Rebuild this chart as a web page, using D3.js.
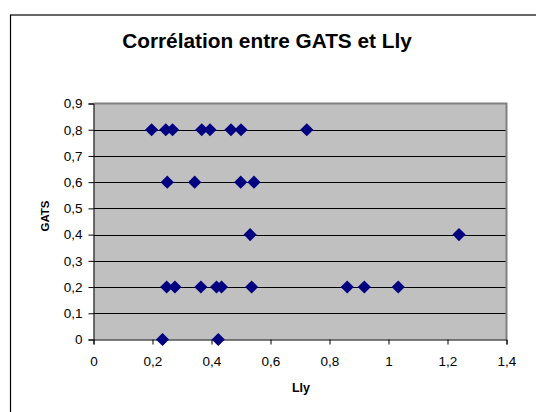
<!DOCTYPE html>
<html><head><meta charset="utf-8">
<script src="https://cdn.jsdelivr.net/npm/d3@7"></script>
<style>body{margin:0;background:#fff}svg{display:block}text{font-family:"Liberation Sans",Arial,sans-serif}</style>
</head><body><svg id="c" width="536" height="412"></svg>
<script>
const lly  = [0.197,0.245,0.268,0.367,0.395,0.466,0.500,0.723,
              0.250,0.343,0.499,0.544,
              0.531,1.239,
              0.248,0.276,0.364,0.417,0.434,0.536,0.860,0.918,1.033,
              0.234,0.423];
const gats = [0.8,0.8,0.8,0.8,0.8,0.8,0.8,0.8,
              0.6,0.6,0.6,0.6,
              0.4,0.4,
              0.2,0.2,0.2,0.2,0.2,0.2,0.2,0.2,0.2,
              0,0];
const xTicks = [0,0.2,0.4,0.6,0.8,1,1.2,1.4];
const yTicks = [0,0.1,0.2,0.3,0.4,0.5,0.6,0.7,0.8,0.9];
const title = "Corrélation entre GATS et Lly";

const svg = d3.select("#c");
const fmt = d => String(d).replace(".", ",");
const x = d3.scaleLinear().domain([0,1.4]).range([93.5,506.5]);
const y = d3.scaleLinear().domain([0,0.9]).range([339.5,103.5]);

// outer chart border
svg.append("rect").attr("x",10.5).attr("y",15).attr("width",560).attr("height",440)
  .attr("fill","#fff").attr("stroke","#000").attr("stroke-width",1.2);

svg.append("text").attr("x",267).attr("y",48).attr("text-anchor","middle")
  .attr("font-size",20.8).attr("font-weight","bold").text(title);

// plot area
svg.append("rect").attr("x",x(0)).attr("y",y(0.9)).attr("width",x(1.4)-x(0)).attr("height",y(0)-y(0.9))
  .attr("fill","#c0c0c0");

// gridlines
svg.append("g").selectAll("line").data(yTicks.filter(t=>t>0 && t<0.9)).join("line")
  .attr("x1",x(0)).attr("x2",x(1.4)).attr("y1",d=>Math.round(y(d))+0.5).attr("y2",d=>Math.round(y(d))+0.5)
  .attr("stroke","#000").attr("stroke-width",1);

// gray top & right borders
svg.append("path").attr("d",`M${x(0)},${y(0.9)}H${x(1.4)}V${y(0)}`)
  .attr("fill","none").attr("stroke","#808080").attr("stroke-width",2);

// axes
const xa = svg.append("g").attr("transform",`translate(0,${y(0)})`)
  .call(d3.axisBottom(x).tickValues(xTicks).tickFormat(fmt).tickSizeOuter(0).tickSize(5).tickPadding(12));
const ya = svg.append("g").attr("transform",`translate(${x(0)},0)`)
  .call(d3.axisLeft(y).tickValues(yTicks).tickFormat(fmt).tickSizeOuter(0).tickSize(5).tickPadding(6));
[xa,ya].forEach(a=>{
  a.selectAll("text").attr("font-size",13.5).attr("fill","#000").attr("font-family","Liberation Sans, Arial, sans-serif");
  a.selectAll("line,path").attr("stroke","#000");
});

svg.append("text").attr("x",301).attr("y",392).attr("text-anchor","middle")
  .attr("font-size",12.5).attr("font-weight","bold").text("Lly");
svg.append("text").attr("transform","translate(48.5,216) rotate(-90)").attr("text-anchor","middle")
  .attr("font-size",11.5).attr("font-weight","bold").text("GATS");

// points
const sym = d3.symbol().type(d3.symbolDiamond2).size(110);
svg.append("g").selectAll("path").data(lly.map((v,i)=>[v,gats[i]])).join("path")
  .attr("transform",d=>`translate(${x(d[0])},${y(d[1])})`)
  .attr("d",sym).attr("fill","#000080");
</script></body></html>
